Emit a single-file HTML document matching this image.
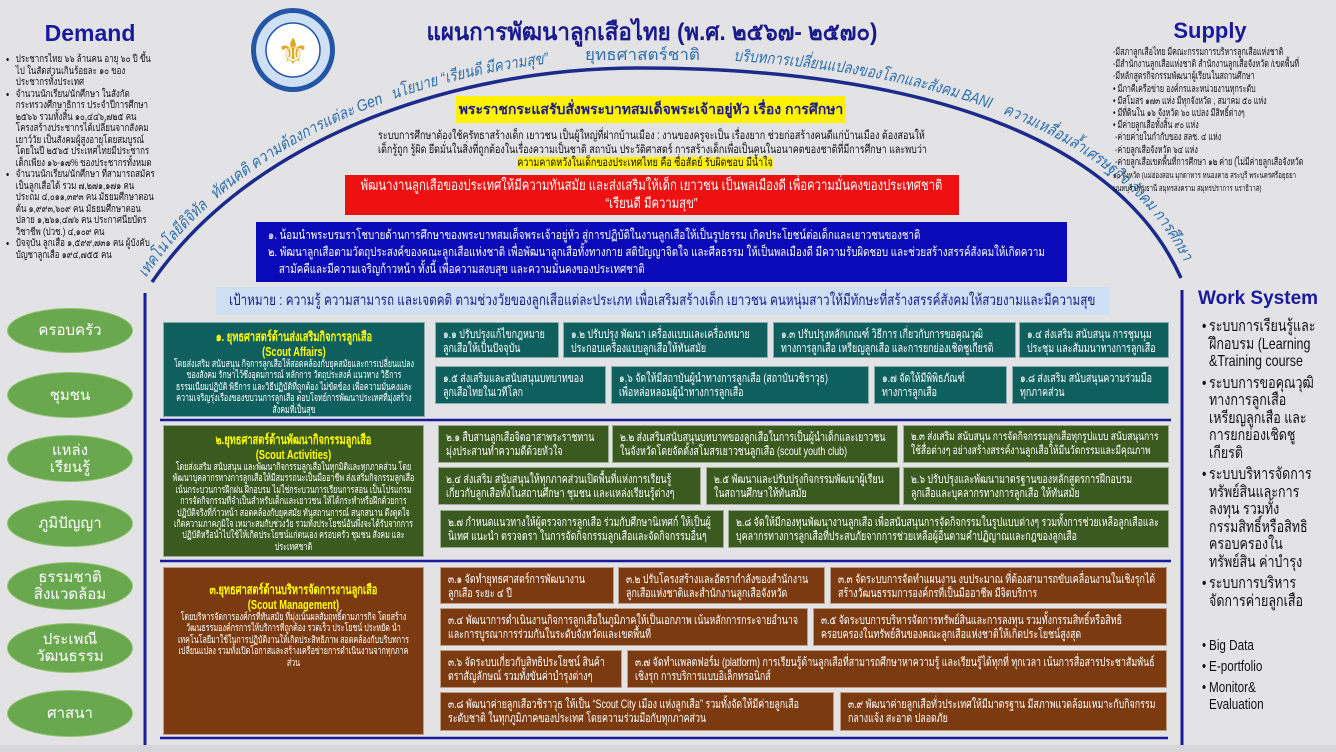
<!DOCTYPE html>
<html><head><meta charset="utf-8">
<style>
*{margin:0;padding:0;box-sizing:border-box}
body{width:1336px;height:752px;background:#e3e3e6;font-family:"Liberation Sans","DejaVu Sans",sans-serif;position:relative;overflow:hidden}
.a{position:absolute}
.c{width:128%;transform:scaleX(.78);transform-origin:left top}
.c7{width:140%;transform:scaleX(.714);transform-origin:left top}
.cs{width:135%;transform:scaleX(.74);transform-origin:left top;white-space:nowrap}
.nw{white-space:nowrap}
.bx{position:absolute;color:#fff;font-size:12px;line-height:14px;padding:4px 7px;overflow:hidden;border:1px solid rgba(255,255,255,.5)}
.t{background:#0f5f5f}.o{background:#3b5a1f}.b{background:#7b3a0f}
.big{text-align:center;font-size:10px;line-height:11.4px;padding:6px 8px}
.big h4{color:#ffff00;font-size:13px;line-height:15px}
.pill{position:absolute;left:7px;width:126px;background:#6aa84f;border:1px solid #8fc46f;border-radius:50%;color:#fff;font-size:15px;line-height:17px;display:flex;align-items:center;justify-content:center;text-align:center}
.dem{font-size:10.2px;line-height:11.5px;color:#111}
.dem li{margin-left:10px}
.ws{font-size:16px;line-height:17.5px;color:#111}
.ws li{list-style:none;position:relative;padding-left:9px;margin-bottom:4px}
.ws li:before{content:"•";position:absolute;left:0}
</style></head><body>

<svg class="a" style="left:0;top:0" width="1336" height="752">
<path id="arc" d="M152,282 C250,140 450,68 640,68 C880,68 1110,120 1181,278" fill="none" stroke="#1c2a8c" stroke-width="3.5"/>
<path id="arc2" d="M146,278 C244,132 446,58 640,58 C884,58 1118,112 1189,272" fill="none"/>
<g fill="#2e6fae" font-size="16" font-family="Liberation Sans,DejaVu Sans,sans-serif" font-style="italic">
<text><textPath href="#arc2" startOffset="0" textLength="95" lengthAdjust="spacingAndGlyphs">เทคโนโลยีดิจิทัล</textPath></text>
<text><textPath href="#arc2" startOffset="105" textLength="195" lengthAdjust="spacingAndGlyphs">ทัศนคติ ความต้องการแต่ละ Gen</textPath></text>
<text><textPath href="#arc2" startOffset="310" textLength="160" lengthAdjust="spacingAndGlyphs">นโยบาย “เรียนดี มีความสุข”</textPath></text>
<text><textPath href="#arc2" startOffset="655" textLength="262" lengthAdjust="spacingAndGlyphs">บริบทการเปลี่ยนแปลงของโลกและสังคม BANI</textPath></text>
<text><textPath href="#arc2" startOffset="930" textLength="240" lengthAdjust="spacingAndGlyphs">ความเหลื่อมล้ำเศรษฐกิจ สังคม การศึกษา</textPath></text>
<text x="585" y="60" font-style="normal" textLength="115" lengthAdjust="spacingAndGlyphs">ยุทธศาสตร์ชาติ</text>
</g>
<line x1="145" y1="293" x2="145" y2="748" stroke="#1a1a9c" stroke-width="3"/>
<line x1="1182" y1="290" x2="1182" y2="747" stroke="#1a1a9c" stroke-width="3"/>
<line x1="160" y1="420" x2="1171" y2="420" stroke="#1a1a9c" stroke-width="2.5"/>
<line x1="160" y1="561" x2="1171" y2="561" stroke="#1a1a9c" stroke-width="2.5"/>
<line x1="160" y1="738" x2="1168" y2="738" stroke="#1a1a9c" stroke-width="2.5"/>
<circle cx="293" cy="50" r="42" fill="#2456a8"/>
<circle cx="293" cy="50" r="37" fill="#cfe0f5"/>
<circle cx="293" cy="50" r="27" fill="#fff" stroke="#2456a8" stroke-width="1.5"/>
<text x="293" y="64" text-anchor="middle" font-size="36" fill="#e0a81c" font-family="DejaVu Sans,sans-serif">⚜</text>
</svg>

<div class="a" style="left:40px;top:20px;width:100px;text-align:center;font-size:23px;font-weight:bold;color:#1a1a9c">Demand</div>
<div class="a" style="left:8px;top:54px;width:148px"><ul class="dem c">
<li>ประชากรไทย ๖๖ ล้านคน อายุ ๖๐ ปี ขึ้นไป ในสัดส่วนเกินร้อยละ ๑๐ ของประชากรทั้งประเทศ</li>
<li>จำนวนนักเรียน/นักศึกษา ในสังกัดกระทรวงศึกษาธิการ ประจำปีการศึกษา ๒๕๖๖ รวมทั้งสิ้น ๑๐,๔๔๖,๗๒๕ คน โครงสร้างประชากรได้เปลี่ยนจากสังคมเยาว์วัย เป็นสังคมผู้สูงอายุโดยสมบูรณ์ โดยในปี ๒๕๖๕ ประเทศไทยมีประชากรเด็กเพียง ๑๖-๑๗% ของประชากรทั้งหมด</li>
<li>จำนวนนักเรียน/นักศึกษา ที่สามารถสมัครเป็นลูกเสือได้ รวม ๗,๒๗๑,๑๗๑ คน ประถม ๔,๐๑๑,๓๙๓ คน มัธยมศึกษาตอนต้น ๑,๙๙๓,๖๐๙ คน มัธยมศึกษาตอนปลาย ๑,๒๖๑,๔๗๖ คน ประกาศนียบัตรวิชาชีพ (ปวช.) ๔,๑๐๙ คน</li>
<li>ปัจจุบัน ลูกเสือ ๑,๕๙๙,๗๓๑ คน ผู้บังคับบัญชาลูกเสือ ๑๙๔,๗๕๕ คน</li>
</ul></div>

<div class="a" style="left:410px;top:12px;width:470px;text-align:center;font-size:24px;font-weight:bold;color:#1a1a8c;white-space:nowrap"><div style="transform:scaleX(.93)">แผนการพัฒนาลูกเสือไทย (พ.ศ. ๒๕๖๗- ๒๕๗๐)</div></div>

<div class="a" style="left:1170px;top:18px;width:80px;text-align:center;font-size:22px;font-weight:bold;color:#1a1a9c">Supply</div>
<div class="a" style="left:1113px;top:47px;width:218px"><div class="dem c7" style="font-size:10px;line-height:12.2px;white-space:nowrap">
-มีสภาลูกเสือไทย มีคณะกรรมการบริหารลูกเสือแห่งชาติ<br>-มีสำนักงานลูกเสือแห่งชาติ สำนักงานลูกเสือจังหวัด /เขตพื้นที่<br>-มีหลักสูตรกิจกรรมพัฒนาผู้เรียนในสถานศึกษา<br>• มีภาคีเครือข่าย องค์กรและหน่วยงานทุกระดับ<br>• มีสโมสร ๑๗๓ แห่ง มีทุกจังหวัด , สมาคม ๕๐ แห่ง<br>• มีที่ดินใน ๑๖ จังหวัด ๖๐ แปลง มีสิทธิ์ต่างๆ<br>• มีค่ายลูกเสือทั้งสิ้น ๙๐ แห่ง<br>&nbsp;-ค่ายค่ายในกำกับของ สลช. ๔ แห่ง<br>&nbsp;-ค่ายลูกเสือจังหวัด ๖๔ แห่ง<br>&nbsp;-ค่ายลูกเสือเขตพื้นที่การศึกษา ๑๒ ค่าย (ไม่มีค่ายลูกเสือจังหวัด<br><span style="font-size:8.5px">๑๐ จังหวัด (แม่ฮ่องสอน มุกดาหาร หนองคาย สระบุรี พระนครศรีอยุธยา<br>นนทบุรี ปทุมธานี สมุทรสงคราม สมุทรปราการ นราธิวาส)</span>
</div></div>

<div class="a" style="left:456px;top:96px;width:390px;height:27px;background:#fff200;color:#1a1a8c;font-weight:bold;font-size:14px;line-height:27px;text-align:center;white-space:nowrap;overflow:hidden">พระราชกระแสรับสั่งพระบาทสมเด็จพระเจ้าอยู่หัว เรื่อง การศึกษา</div>
<div class="a" style="left:378px;top:130px;width:535px"><div class="c nw" style="font-size:11.5px;line-height:13.5px;color:#111;text-align:center">ระบบการศึกษาต้องใช้ครัทธาสร้างเด็ก เยาวชน เป็นผู้ใหญ่ที่ฝากบ้านเมือง : งานของครูจะเป็น เรื่องยาก ช่วยก่อสร้างคนดีแก่บ้านเมือง ต้องสอนให้<br>เด็กรู้ถูก รู้ผิด ยึดมั่นในสิ่งที่ถูกต้องในเรื่องความเป็นชาติ สถาบัน ประวัติศาสตร์ การสร้างเด็กเพื่อเป็นคนในอนาคตของชาติที่มีการศึกษา และพบว่า<br><span style="background:#fff200">ความคาดหวังในเด็กของประเทศไทย คือ ซื่อสัตย์ รับผิดชอบ มีน้ำใจ</span></div></div>

<div class="a" style="left:345px;top:175px;width:614px;height:40px;background:#ee1111;color:#fff;padding-top:2px;overflow:hidden"><div class="c nw" style="font-size:14.5px;line-height:18px;text-align:center">พัฒนางานลูกเสือของประเทศให้มีความทันสมัย และส่งเสริมให้เด็ก เยาวชน เป็นพลเมืองดี เพื่อความมั่นคงของประเทศชาติ<br>“เรียนดี มีความสุข”</div></div>

<div class="a" style="left:256px;top:222px;width:811px;height:60px;background:#0a0ab8;color:#fff;padding:5px 10px 0 12px;overflow:hidden"><div class="c nw" style="font-size:12.5px;line-height:17px">๑. น้อมนำพระบรมราโชบายด้านการศึกษาของพระบาทสมเด็จพระเจ้าอยู่หัว สู่การปฏิบัติในงานลูกเสือให้เป็นรูปธรรม เกิดประโยชน์ต่อเด็กและเยาวชนของชาติ<br>๒. พัฒนาลูกเสือตามวัตถุประสงค์ของคณะลูกเสือแห่งชาติ เพื่อพัฒนาลูกเสือทั้งทางกาย สติปัญญาจิตใจ และศีลธรรม ให้เป็นพลเมืองดี มีความรับผิดชอบ และช่วยสร้างสรรค์สังคมให้เกิดความ<br>&nbsp;&nbsp;&nbsp;&nbsp;สามัคคีและมีความเจริญก้าวหน้า ทั้งนี้ เพื่อความสงบสุข และความมั่นคงของประเทศชาติ</div></div>

<div class="a" style="left:216px;top:287px;width:894px;height:28px;background:#cfe0f5;color:#1a1a8c;overflow:hidden"><div class="c nw" style="font-size:15px;line-height:28px;text-align:center">เป้าหมาย : ความรู้ ความสามารถ และเจตคติ ตามช่วงวัยของลูกเสือแต่ละประเภท เพื่อเสริมสร้างเด็ก เยาวชน คนหนุ่มสาวให้มีทักษะที่สร้างสรรค์สังคมให้สวยงามและมีความสุข</div></div>

<div class="pill" style="top:308px;height:45px">ครอบครัว</div>
<div class="pill" style="top:372px;height:46px">ชุมชน</div>
<div class="pill" style="top:435px;height:47px">แหล่ง<br>เรียนรู้</div>
<div class="pill" style="top:500px;height:47px">ภูมิปัญญา</div>
<div class="pill" style="top:562px;height:48px">ธรรมชาติ<br>สิ่งแวดล้อม</div>
<div class="pill" style="top:623px;height:50px">ประเพณี<br>วัฒนธรรม</div>
<div class="pill" style="top:690px;height:47px">ศาสนา</div>

<!-- Row 1 -->
<div class="bx t big" style="left:163px;top:322px;width:262px;height:95px"><div class="c7"><h4>๑. ยุทธศาสตร์ด้านส่งเสริมกิจการลูกเสือ<br>(Scout Affairs)</h4>โดยส่งเสริม สนับสนุน กิจการลูกเสือให้สอดคล้องกับยุคสมัยและการเปลี่ยนแปลงของสังคม รักษาไว้ซึ่งอุดมการณ์ หลักการ วัตถุประสงค์ แนวทาง วิธีการ ธรรมเนียมปฏิบัติ พิธีการ และวิธีปฏิบัติที่ถูกต้อง ไม่ขัดข้อง เพื่อความมั่นคงและความเจริญรุ่งเรืองของขบวนการลูกเสือ ตอบโจทย์การพัฒนาประเทศที่มุ่งสร้างสังคมที่เป็นสุข</div></div>
<div class="bx t" style="left:435px;top:322px;width:124px;height:36px"><div class="cs">๑.๑ ปรับปรุงแก้ไขกฎหมาย<br>ลูกเสือให้เป็นปัจจุบัน</div></div>
<div class="bx t" style="left:563px;top:322px;width:205px;height:36px"><div class="cs">๑.๒ ปรับปรุง พัฒนา เครื่องแบบและเครื่องหมาย<br>ประกอบเครื่องแบบลูกเสือให้ทันสมัย</div></div>
<div class="bx t" style="left:773px;top:322px;width:243px;height:36px"><div class="cs">๑.๓ ปรับปรุงหลักเกณฑ์ วิธีการ เกี่ยวกับการขอคุณวุฒิ<br>ทางการลูกเสือ เหรียญลูกเสือ และการยกย่องเชิดชูเกียรติ</div></div>
<div class="bx t" style="left:1019px;top:322px;width:150px;height:36px"><div class="cs">๑.๔ ส่งเสริม สนับสนุน การชุมนุม<br>ประชุม และสัมมนาทางการลูกเสือ</div></div>
<div class="bx t" style="left:435px;top:366px;width:171px;height:38px"><div class="cs">๑.๕ ส่งเสริมและสนับสนุนบทบาทของ<br>ลูกเสือไทยในเวทีโลก</div></div>
<div class="bx t" style="left:611px;top:366px;width:258px;height:38px"><div class="cs">๑.๖ จัดให้มีสถาบันผู้นำทางการลูกเสือ (สถาบันวชิราวุธ)<br>เพื่อหล่อหลอมผู้นำทางการลูกเสือ</div></div>
<div class="bx t" style="left:874px;top:366px;width:133px;height:38px"><div class="cs">๑.๗ จัดให้มีพิพิธภัณฑ์<br>ทางการลูกเสือ</div></div>
<div class="bx t" style="left:1012px;top:366px;width:157px;height:38px"><div class="cs">๑.๘ ส่งเสริม สนับสนุนความร่วมมือ<br>ทุกภาคส่วน</div></div>

<!-- Row 2 -->
<div class="bx o big" style="left:163px;top:425px;width:261px;height:132px"><div class="c7"><h4>๒.ยุทธศาสตร์ด้านพัฒนากิจกรรมลูกเสือ<br>(Scout Activities)</h4>โดยส่งเสริม สนับสนุน และพัฒนากิจกรรมลูกเสือในทุกมิติและทุกภาคส่วน โดยพัฒนาบุคลากรทางการลูกเสือให้มีสมรรถนะเป็นมืออาชีพ ส่งเสริมกิจกรรมลูกเสือเน้นกระบวนการฝึกฝน ฝึกอบรม ไม่ใช่กระบวนการเรียนการสอน เป็นโปรแกรมการจัดกิจกรรมที่จำเป็นสำหรับเด็กและเยาวชน ให้ได้กระทำหรือฝึกด้วยการปฏิบัติจริงที่ก้าวหน้า สอดคล้องกับยุคสมัย ทันสถานการณ์ สนุกสนาน ดึงดูดใจ เกิดความภาคภูมิใจ เหมาะสมกับช่วงวัย รวมทั้งประโยชน์อันพึงจะได้รับจากการปฏิบัติหรือนำไปใช้ให้เกิดประโยชน์แก่ตนเอง ครอบครัว ชุมชน สังคม และประเทศชาติ</div></div>
<div class="bx o" style="left:438px;top:425px;width:171px;height:38px"><div class="cs">๒.๑ สืบสานลูกเสือจิตอาสาพระราชทาน<br>มุ่งประสานทำความดีด้วยหัวใจ</div></div>
<div class="bx o" style="left:612px;top:425px;width:286px;height:38px"><div class="cs">๒.๒ ส่งเสริมสนับสนุนบทบาทของลูกเสือในการเป็นผู้นำเด็กและเยาวชน<br>ในจังหวัดโดยจัดตั้งสโมสรเยาวชนลูกเสือ (scout youth club)</div></div>
<div class="bx o" style="left:903px;top:425px;width:266px;height:38px"><div class="cs" style="font-size:11.5px">๒.๓ ส่งเสริม สนับสนุน การจัดกิจกรรมลูกเสือทุกรูปแบบ สนับสนุนการ<br>ใช้สื่อต่างๆ อย่างสร้างสรรค์งานลูกเสือให้มีนวัตกรรมและมีคุณภาพ</div></div>
<div class="bx o" style="left:438px;top:467px;width:263px;height:38px"><div class="cs">๒.๔ ส่งเสริม สนับสนุนให้ทุกภาคส่วนเปิดพื้นที่แห่งการเรียนรู้<br>เกี่ยวกับลูกเสือทั้งในสถานศึกษา ชุมชน และแหล่งเรียนรู้ต่างๆ</div></div>
<div class="bx o" style="left:706px;top:467px;width:194px;height:38px"><div class="cs">๒.๕ พัฒนาและปรับปรุงกิจกรรมพัฒนาผู้เรียน<br>ในสถานศึกษาให้ทันสมัย</div></div>
<div class="bx o" style="left:903px;top:467px;width:266px;height:38px"><div class="cs">๒.๖ ปรับปรุงและพัฒนามาตรฐานของหลักสูตรการฝึกอบรม<br>ลูกเสือและบุคลากรทางการลูกเสือ ให้ทันสมัย</div></div>
<div class="bx o" style="left:440px;top:510px;width:284px;height:38px"><div class="cs">๒.๗ กำหนดแนวทางให้ผู้ตรวจการลูกเสือ ร่วมกับศึกษานิเทศก์ ให้เป็นผู้<br>นิเทศ แนะนำ ตรวจตรา ในการจัดกิจกรรมลูกเสือและจัดกิจกรรมอื่นๆ</div></div>
<div class="bx o" style="left:728px;top:510px;width:441px;height:38px"><div class="cs">๒.๘ จัดให้มีกองทุนพัฒนางานลูกเสือ เพื่อสนับสนุนการจัดกิจกรรมในรูปแบบต่างๆ รวมทั้งการช่วยเหลือลูกเสือและ<br>บุคลากรทางการลูกเสือที่ประสบภัยจากการช่วยเหลือผู้อื่นตามคำปฏิญาณและกฎของลูกเสือ</div></div>

<!-- Row 3 -->
<div class="bx b big" style="left:163px;top:567px;width:261px;height:168px;padding-top:14px"><div class="c7"><h4>๓.ยุทธศาสตร์ด้านบริหารจัดการงานลูกเสือ<br>(Scout Management)</h4>โดยบริหารจัดการองค์กรที่ทันสมัย ที่มุ่งเน้นผลสัมฤทธิ์ตามภารกิจ โดยสร้างวัฒนธรรมองค์กรการให้บริการที่ถูกต้อง รวดเร็ว ประโยชน์ ประหยัด นำเทคโนโลยีมาใช้ในการปฏิบัติงานให้เกิดประสิทธิภาพ สอดคล้องกับบริบทการเปลี่ยนแปลง รวมทั้งเปิดโอกาสและสร้างเครือข่ายการดำเนินงานจากทุกภาคส่วน</div></div>
<div class="bx b" style="left:440px;top:567px;width:174px;height:37px"><div class="cs">๓.๑ จัดทำยุทธศาสตร์การพัฒนางาน<br>ลูกเสือ ระยะ ๔ ปี</div></div>
<div class="bx b" style="left:618px;top:567px;width:207px;height:37px"><div class="cs">๓.๒ ปรับโครงสร้างและอัตรากำลังของสำนักงาน<br>ลูกเสือแห่งชาติและสำนักงานลูกเสือจังหวัด</div></div>
<div class="bx b" style="left:830px;top:567px;width:337px;height:37px"><div class="cs">๓.๓ จัดระบบการจัดทำแผนงาน งบประมาณ ที่ต้องสามารถขับเคลื่อนงานในเชิงรุกได้<br>สร้างวัฒนธรรมการองค์กรที่เป็นมืออาชีพ มีจิตบริการ</div></div>
<div class="bx b" style="left:440px;top:608px;width:368px;height:38px"><div class="cs">๓.๔ พัฒนาการดำเนินงานกิจการลูกเสือในภูมิภาคให้เป็นเอกภาพ เน้นหลักการกระจายอำนาจ<br>และการบูรณาการร่วมกันในระดับจังหวัดและเขตพื้นที่</div></div>
<div class="bx b" style="left:813px;top:608px;width:354px;height:38px"><div class="cs">๓.๕ จัดระบบการบริหารจัดการทรัพย์สินและการลงทุน รวมทั้งกรรมสิทธิ์หรือสิทธิ<br>ครอบครองในทรัพย์สินของคณะลูกเสือแห่งชาติให้เกิดประโยชน์สูงสุด</div></div>
<div class="bx b" style="left:440px;top:650px;width:182px;height:38px"><div class="cs">๓.๖ จัดระบบเกี่ยวกับสิทธิประโยชน์ สินค้า<br>ตราสัญลักษณ์ รวมทั้งขันค่าบำรุงต่างๆ</div></div>
<div class="bx b" style="left:627px;top:650px;width:540px;height:38px"><div class="cs">๓.๗ จัดทำแพลตฟอร์ม (platform) การเรียนรู้ด้านลูกเสือที่สามารถศึกษาหาความรู้ และเรียนรู้ได้ทุกที่ ทุกเวลา เน้นการสื่อสารประชาสัมพันธ์<br>เชิงรุก การบริการแบบอิเล็กทรอนิกส์</div></div>
<div class="bx b" style="left:440px;top:692px;width:394px;height:39px"><div class="cs">๓.๘ พัฒนาค่ายลูกเสือวชิราวุธ ให้เป็น “Scout City เมือง แห่งลูกเสือ” รวมทั้งจัดให้มีค่ายลูกเสือ<br>ระดับชาติ ในทุกภูมิภาคของประเทศ โดยความร่วมมือกับทุกภาคส่วน</div></div>
<div class="bx b" style="left:840px;top:692px;width:327px;height:39px"><div class="cs">๓.๙ พัฒนาค่ายลูกเสือทั่วประเทศให้มีมาตรฐาน มีสภาพแวดล้อมเหมาะกับกิจกรรม<br>กลางแจ้ง สะอาด ปลอดภัย</div></div>

<div class="a" style="left:1198px;top:288px;font-size:19px;font-weight:bold;color:#1a1a9c;white-space:nowrap">Work System</div>
<div class="a" style="left:1202px;top:318px;width:132px"><ul class="ws c">
<li>ระบบการเรียนรู้และ<br>ฝึกอบรม (Learning<br>&amp;Training course</li>
<li>ระบบการขอคุณวุฒิ<br>ทางการลูกเสือ<br>เหรียญลูกเสือ และ<br>การยกย่องเชิดชู<br>เกียรติ</li>
<li>ระบบบริหารจัดการ<br>ทรัพย์สินและการ<br>ลงทุน รวมทั้ง<br>กรรมสิทธิ์หรือสิทธิ<br>ครอบครองใน<br>ทรัพย์สิน ค่าบำรุง</li>
<li>ระบบการบริหาร<br>จัดการค่ายลูกเสือ</li>
</ul></div>
<div class="a" style="left:1202px;top:637px;width:132px"><ul class="ws c" style="font-size:15px;line-height:17px">
<li style="margin-bottom:4px">Big Data</li>
<li style="margin-bottom:4px">E-portfolio</li>
<li>Monitor&amp;<br>Evaluation</li>
</ul></div>
<div class="a" style="left:0;top:745px;width:1336px;height:7px;background:#d6d6da"></div>
</body></html>
